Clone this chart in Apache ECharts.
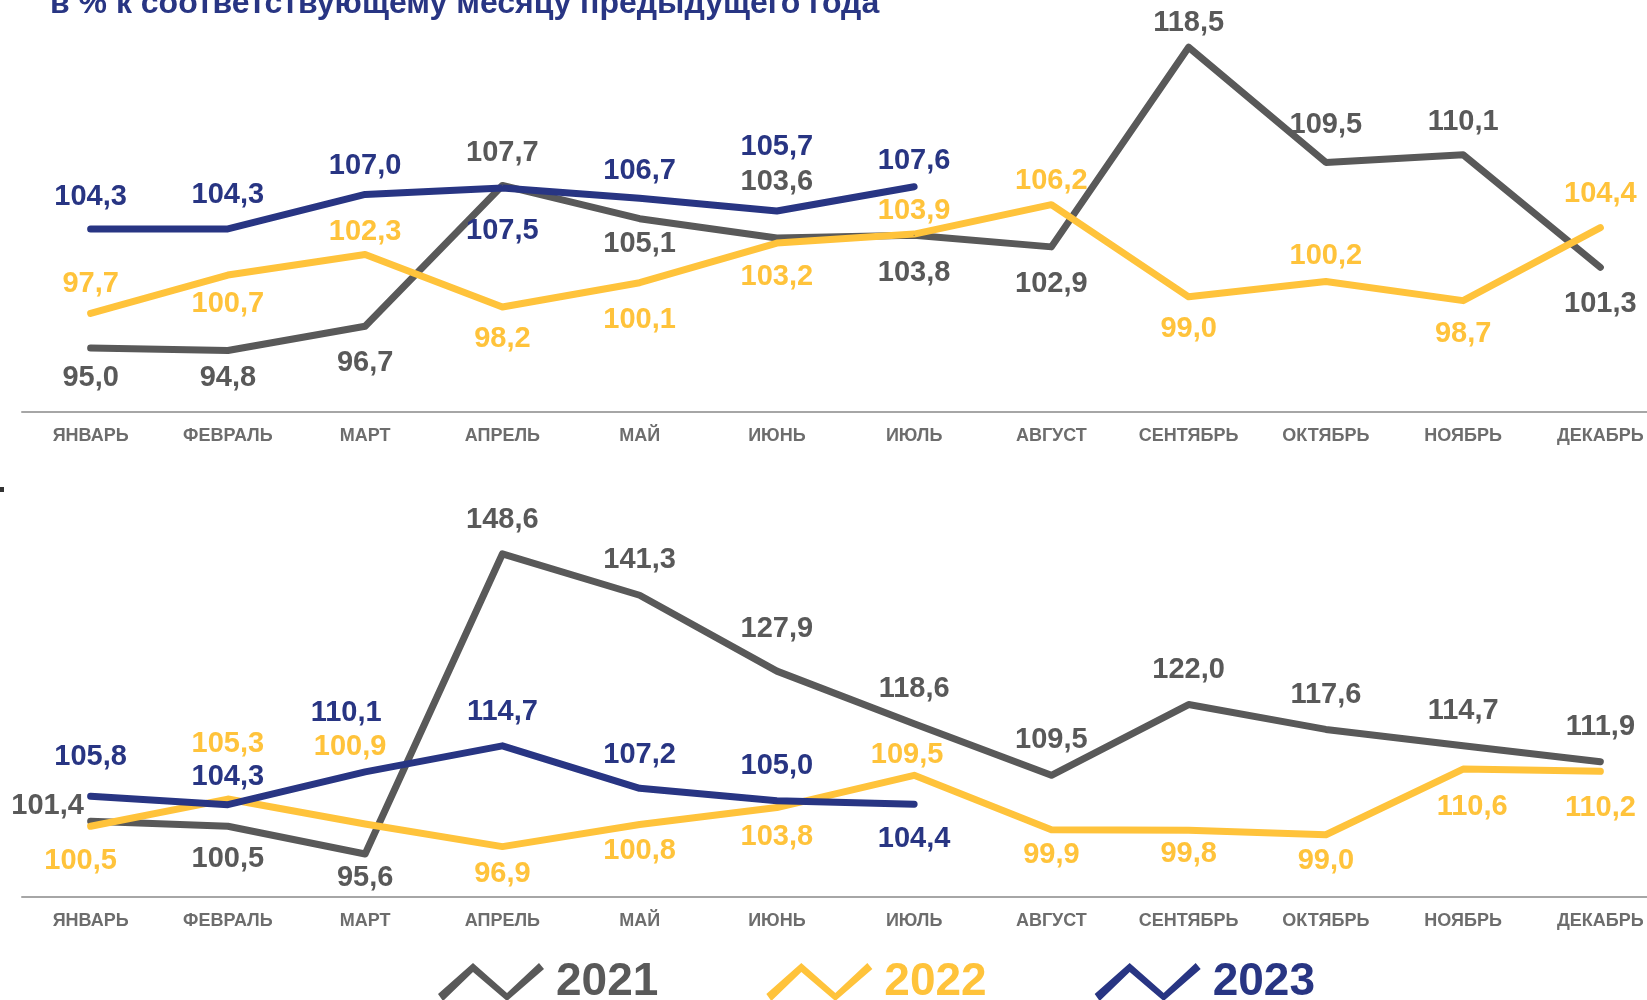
<!DOCTYPE html>
<html>
<head>
<meta charset="utf-8">
<script src="https://cdn.jsdelivr.net/npm/echarts@6/dist/echarts.min.js"></script>
<style>
  html, body { margin: 0; padding: 0; background: #fff; }
  #chart { width: 1647px; height: 1000px; }
</style>
</head>
<body>
<div id="chart"></div>
<script>
const months = ["ЯНВАРЬ", "ФЕВРАЛЬ", "МАРТ", "АПРЕЛЬ", "МАЙ", "ИЮНЬ", "ИЮЛЬ", "АВГУСТ", "СЕНТЯБРЬ", "ОКТЯБРЬ", "НОЯБРЬ", "ДЕКАБРЬ"];
const years = ["2021", "2022", "2023"];

// верхний график
const upper2021 = [95.0, 94.8, 96.7, 107.7, 105.1, 103.6, 103.8, 102.9, 118.5, 109.5, 110.1, 101.3];
const upper2022 = [97.7, 100.7, 102.3, 98.2, 100.1, 103.2, 103.9, 106.2, 99.0, 100.2, 98.7, 104.4];
const upper2023 = [104.3, 104.3, 107.0, 107.5, 106.7, 105.7, 107.6];

// нижний график
const lower2021 = [101.4, 100.5, 95.6, 148.6, 141.3, 127.9, 118.6, 109.5, 122.0, 117.6, 114.7, 111.9];
const lower2022 = [100.5, 105.3, 100.9, 96.9, 100.8, 103.8, 109.5, 99.9, 99.8, 99.0, 110.6, 110.2];
const lower2023 = [105.8, 104.3, 110.1, 114.7, 107.2, 105.0, 104.4];

// сдвиг подписей относительно точки (dy или [dx, dy])
const upperOff2021 = [30, 27, 37, -32, 25, -56, 38, 37, -24, -37, -33, 37];
const upperOff2022 = [-29, 29, -23, 32, 37, 34, -23, -24, 32, -25, 33, -34];
const upperOff2023 = [-32, -34, -28, 43, -27, -64, -26];
const lowerOff2021 = [[-43, -15], 33, 24, -34, -35, -42, -35, -35, -35, -34, -35, -35];
const lowerOff2022 = [[-10, 35], -55, [-15, -77], 27, 26, 29, [-7, -20], 25, 24, 26, [9, 38], 37];
const lowerOff2023 = [-39, -28, [-19, -59], -34, -33, -35, 35];

const colors = { "2021": "#595959", "2022": "#ffc33b", "2023": "#283583" };
const font = "Liberation Sans, Arial, sans-serif";

const fmt = (v) => v.toFixed(1).replace(".", ",");

function makeLine(name, values, offs, idx) {
  const color = colors[name];
  return {
    name: name,
    type: "line",
    xAxisIndex: idx,
    yAxisIndex: idx,
    data: values.map((v, i) => ({
      value: v,
      label: { offset: Array.isArray(offs[i]) ? offs[i] : [0, offs[i]] },
    })),
    symbol: "circle",
    symbolSize: 1,
    showSymbol: true,
    lineStyle: { color: color, width: 7, cap: "round", join: "round" },
    itemStyle: { color: color },
    label: {
      show: true,
      position: "inside",
      color: color,
      fontFamily: font,
      fontWeight: "bold",
      fontSize: 29,
      formatter: (p) => fmt(p.value),
    },
    silent: true,
  };
}

const xAxisBase = {
  type: "category",
  data: months,
  axisLine: { lineStyle: { color: "#a6a6a6", width: 2 } },
  axisTick: { show: false },
  axisLabel: {
    color: "#6d6d6d",
    fontFamily: font,
    fontWeight: "bold",
    fontSize: 18,
    margin: 15,
    interval: 0,
  },
};

const chart = echarts.init(document.getElementById("chart"));
chart.setOption({
  animation: false,
  backgroundColor: "#fff",
  grid: [
    { left: 22, width: 1647, top: 28, height: 384, outerBoundsMode: "none" },
    { left: 22, width: 1647, top: 546, height: 351, outerBoundsMode: "none" },
  ],
  xAxis: [
    Object.assign({ gridIndex: 0 }, xAxisBase),
    Object.assign({ gridIndex: 1 }, xAxisBase),
  ],
  yAxis: [
    { gridIndex: 0, type: "value", min: 90, max: 120, show: false },
    { gridIndex: 1, type: "value", min: 88, max: 150, show: false },
  ],
  legend: {
    data: years.map((y) => ({ name: y, textStyle: { color: colors[y] } })),
    left: 433,
    top: 954,
    itemWidth: 106,
    itemHeight: 38,
    itemGap: 108,
    icon: "path://M0,31L35,0L69,30L101,0L106,6L69,38L35,9L5,38Z",
    selectedMode: false,
    textStyle: {
      fontFamily: font,
      fontWeight: "bold",
      fontSize: 46,
      padding: [0, 0, 0, 7],
    },
  },
  graphic: [
    {
      type: "text",
      left: 50,
      top: -12,
      style: {
        text: "в % к соответствующему месяцу предыдущего года",
        fill: "#283583",
        font: "bold 32px " + font,
      },
    },
    { type: "rect", shape: { x: 0, y: 487, width: 4, height: 5 }, style: { fill: "#333" } },
  ],
  series: [
    makeLine("2021", upper2021, upperOff2021, 0),
    makeLine("2022", upper2022, upperOff2022, 0),
    makeLine("2023", upper2023, upperOff2023, 0),
    makeLine("2021", lower2021, lowerOff2021, 1),
    makeLine("2022", lower2022, lowerOff2022, 1),
    makeLine("2023", lower2023, lowerOff2023, 1),
  ],
});
</script>
</body>
</html>
